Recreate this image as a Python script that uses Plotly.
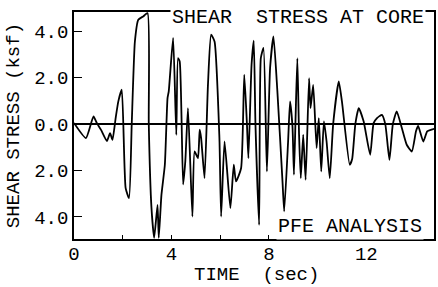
import plotly.graph_objects as go

# Time (sec) and shear stress (ksf)
time_s = [0.0, 0.49, 0.8, 0.94, 1.11, 1.35, 1.48, 1.58, 1.71, 1.82, 1.96, 2.12, 2.26, 2.37,
          2.5, 2.64, 2.84, 3.02, 3.07, 3.18, 3.29, 3.43, 3.48, 3.59, 3.73, 3.84, 3.89, 4.07,
          4.2, 4.27, 4.34, 4.48, 4.57, 4.68, 4.86, 4.95, 5.09, 5.16, 5.22, 5.36, 5.5, 5.63,
          5.77, 5.97, 6.04, 6.18, 6.42, 6.56, 6.65, 6.86, 6.99, 7.1, 7.16, 7.29, 7.38, 7.45,
          7.6, 7.67, 7.78, 7.92, 8.05, 8.19, 8.35, 8.56, 8.63, 8.79, 8.87, 8.97, 9.03, 9.1,
          9.17, 9.24, 9.31, 9.41, 9.51, 9.65, 9.71, 9.82, 9.96, 10.05, 10.15, 10.26, 10.37,
          10.5, 10.64, 10.87, 11.0, 11.32, 11.42, 11.55, 11.69, 11.89, 12.16, 12.3, 12.44,
          12.64, 12.78, 12.95, 13.09, 13.25, 13.46, 13.66, 13.87, 14.04, 14.13, 14.34, 14.5,
          14.68, 14.8]
stress_ksf = [0.05, -0.6, 0.33, 0.04, -0.25, -0.73, -0.39, -0.68, 0.26, 0.98, 1.48, -2.76, -3.19, 0.0,
              3.56, 4.5, 4.64, 4.78, 0.0, -3.6, -4.9, -3.48, -4.9, -3.05, -1.75, 1.12, 1.41, 3.71,
              -0.46, 2.84, 2.7, -2.6, -1.6, 0.69, -3.98, -1.18, -1.47, -0.24, -0.6, -2.33, 1.69, 3.85,
              3.56, -0.6, -3.98, -0.75, -3.62, -1.75, -2.47, -1.9, 2.13, 0.0, -1.47, 2.56, 3.6, 0.0,
              -4.34, 2.84, 3.28, -2.04, 2.41, 3.78, 1.41, -2.47, -3.76, -0.75, 0.98, -0.1, -2.18, 0.4,
              2.84, -0.46, -2.33, -0.46, -2.4, 1.98, 0.69, 1.69, -1.03, 0.26, -2.04, 0.12, -0.75,
              -2.33, 0.0, 1.84, 0.98, -1.75, -1.5, 0.0, 0.69, 0.12, -1.32, 0.04, 0.26,
              0.4, 0.0, -1.54, 0.0, 0.55, -0.17, -0.89, -1.18, -0.31, -0.08, -0.75, -0.31,
              -0.24, -0.2]

x_tickvals = [0, 2, 4, 6, 8, 10, 12, 14]
x_ticktext = ["0", "", "4", "", "8", "", "12", ""]
y_tickvals = [4, 2, 0, -2, -4]
y_ticktext = ["4.0", "2.0", "0.0", "2.0", "4.0"]

FONT = "Liberation Mono"

fig = go.Figure()
fig.add_trace(go.Scatter(
    x=time_s, y=stress_ksf, mode="lines",
    line=dict(color="black", width=1.8, shape="spline", smoothing=0.5),
    showlegend=False, hoverinfo="skip"))

fig.update_layout(
    width=438, height=287,
    margin=dict(l=74, r=2, t=12, b=48),
    paper_bgcolor="white", plot_bgcolor="white",
    font=dict(family=FONT, size=20, color="black"),
    xaxis=dict(range=[0, 14.78], tickvals=x_tickvals, ticktext=x_ticktext,
               ticks="inside", ticklen=4, tickwidth=1.2, tickcolor="black",
               showline=True, mirror=True, linecolor="black", linewidth=1.5,
               showgrid=False, zeroline=False, tickfont=dict(size=19),
               ticklabelstandoff=-4),
    yaxis=dict(range=[-4.95, 4.83], tickvals=y_tickvals, ticktext=y_ticktext,
               ticks="inside", ticklen=8, tickwidth=1.2, tickcolor="black",
               showline=True, mirror=True, linecolor="black", linewidth=1.5,
               showgrid=False, zeroline=True, zerolinecolor="black", zerolinewidth=1.5,
               tickfont=dict(size=19)),
)

fig.add_annotation(text="SHEAR\u00a0\u00a0STRESS AT CORE", xref="paper", yref="paper",
                   x=0.978, y=0.976, xanchor="right", yanchor="middle", showarrow=False,
                   font=dict(size=20), bgcolor="white")
fig.add_annotation(text="PFE ANALYSIS", xref="paper", yref="paper",
                   x=0.972, y=0.057, xanchor="right", yanchor="middle", showarrow=False,
                   font=dict(size=20), bgcolor="white")
fig.add_annotation(text="SHEAR STRESS (ksf)", xref="paper", yref="paper",
                   x=-0.166, y=0.498, xanchor="center", yanchor="middle", showarrow=False,
                   textangle=-90, font=dict(size=19))
fig.add_annotation(text="TIME\u00a0\u00a0(sec)", xref="paper", yref="paper",
                   x=0.507, y=-0.158, xanchor="center", yanchor="middle", showarrow=False,
                   font=dict(size=19))

fig.write_html("out.html", config={"displayModeBar": False},
               post_script="document.body.style.margin='0';")
